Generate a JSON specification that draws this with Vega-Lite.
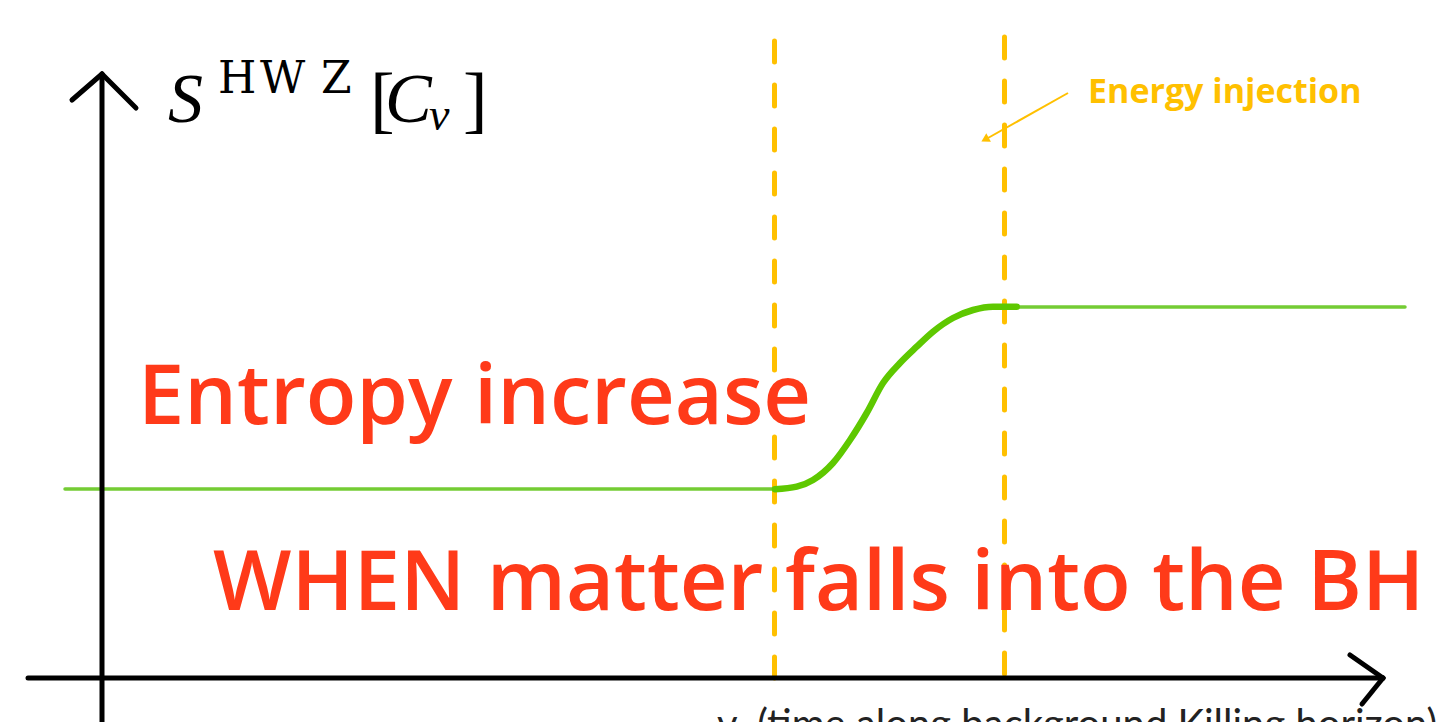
{
  "$schema": "https://vega.github.io/schema/vega-lite/v6.json",
  "width": 1451,
  "height": 722,
  "padding": 0,
  "autosize": {"type": "none"},
  "background": "white",
  "config": {"view": {"stroke": null}},
  "datasets": {
    "axes": [
      {"name": "v-axis", "v": -0.74, "s": 0, "v2": 12.81, "s2": 0},
      {"name": "S-axis", "v": 0, "s": -0.6, "v2": 0, "s2": 6.04},
      {"name": "S-head-left", "v": 0, "s": 6.04, "v2": -0.3, "s2": 5.78},
      {"name": "S-head-right", "v": 0, "s": 6.04, "v2": 0.34, "s2": 5.7},
      {"name": "v-head-up", "v": 12.81, "s": 0, "v2": 12.48, "s2": 0.23},
      {"name": "v-head-down", "v": 12.81, "s": 0, "v2": 12.6, "s2": -0.26}
    ],
    "markers": [
      {"event": "infall start", "v": 6.725, "s": 6.37, "s2": -0.02},
      {"event": "infall end", "v": 9.025, "s": 6.41, "s2": -0.02}
    ],
    "plateaus": [
      {"stage": "before", "v": -0.37, "S": 1.89},
      {"stage": "before", "v": 6.73, "S": 1.89},
      {"stage": "after", "v": 9.08, "S": 3.71},
      {"stage": "after", "v": 13.03, "S": 3.71}
    ],
    "rise": [
      {"v": 6.73, "S": 1.887},
      {"v": 6.947, "S": 1.913},
      {"v": 7.11, "S": 1.98},
      {"v": 7.31, "S": 2.15},
      {"v": 7.48, "S": 2.38},
      {"v": 7.647, "S": 2.65},
      {"v": 7.81, "S": 2.95},
      {"v": 7.98, "S": 3.15},
      {"v": 8.147, "S": 3.313},
      {"v": 8.31, "S": 3.463},
      {"v": 8.51, "S": 3.6},
      {"v": 8.71, "S": 3.68},
      {"v": 8.91, "S": 3.713},
      {"v": 9.147, "S": 3.713}
    ],
    "pointer": [{"v": 9.66, "s": 5.85, "v2": 8.86, "s2": 5.4}],
    "pointerHead": [{"v": 8.83, "s": 5.385}],
    "injection": [{"text": "Energy injection", "v": 9.86, "s": 5.75}],
    "headline": [
      {"text": "Entropy increase", "v": 0.36, "s": 2.54},
      {"text": "WHEN matter falls into the BH", "v": 1.11, "s": 0.68}
    ],
    "vLabel": [{"text": "v\u00a0\u00a0(time along background Killing horizon)", "v": 6.15, "s": -0.6}],
    "symbolMain": [
      {"text": "S", "v": 0.66, "s": 5.56},
      {"text": "C", "v": 2.83, "s": 5.56}
    ],
    "brackets": [
      {"text": "[", "v": 2.68, "s": 5.54},
      {"text": "]", "v": 3.61, "s": 5.54}
    ],
    "superscript": [
      {"text": "H", "v": 1.16, "s": 5.85},
      {"text": "W", "v": 1.58, "s": 5.85},
      {"text": "Z", "v": 2.19, "s": 5.85}
    ],
    "subscript": [{"text": "v", "v": 3.27, "s": 5.48}]
  },
  "encoding": {
    "x": {"field": "v", "type": "quantitative", "scale": {"domain": [-1.02, 13.49], "nice": false, "zero": false}, "axis": null},
    "y": {"field": "s", "type": "quantitative", "scale": {"domain": [-0.44, 6.78], "nice": false, "zero": false}, "axis": null}
  },
  "layer": [
    {
      "data": {"name": "markers"},
      "mark": {"type": "rule", "color": "#ffc000", "strokeWidth": 5, "strokeDash": [21, 23], "strokeCap": "round"},
      "encoding": {"y2": {"field": "s2"}}
    },
    {
      "data": {"name": "plateaus"},
      "mark": {"type": "line", "color": "#74cc34", "strokeWidth": 3.5, "strokeCap": "round"},
      "encoding": {
        "y": {"field": "S", "type": "quantitative"},
        "detail": {"field": "stage"}
      }
    },
    {
      "data": {"name": "rise"},
      "mark": {"type": "line", "color": "#5ec800", "strokeWidth": 6.5, "strokeCap": "round", "interpolate": "monotone"},
      "encoding": {"y": {"field": "S", "type": "quantitative"}}
    },
    {
      "data": {"name": "axes"},
      "mark": {"type": "rule", "color": "#000000", "strokeWidth": 5, "strokeCap": "round"},
      "encoding": {"x2": {"field": "v2"}, "y2": {"field": "s2"}}
    },
    {
      "data": {"name": "pointer"},
      "mark": {"type": "rule", "color": "#ffc000", "strokeWidth": 2},
      "encoding": {"x2": {"field": "v2"}, "y2": {"field": "s2"}}
    },
    {
      "data": {"name": "pointerHead"},
      "mark": {"type": "point", "shape": "triangle-up", "filled": true, "color": "#ffc000", "size": 90, "angle": 241, "opacity": 1}
    },
    {
      "data": {"name": "injection"},
      "mark": {"type": "text", "font": "Open Sans", "fontWeight": "bold", "fontSize": 34, "color": "#ffc000", "align": "left", "baseline": "alphabetic"},
      "encoding": {"text": {"field": "text"}}
    },
    {
      "data": {"name": "headline"},
      "mark": {"type": "text", "font": "Open Sans", "fontWeight": 600, "fontSize": 83, "color": "#ff3a19", "align": "left", "baseline": "alphabetic"},
      "encoding": {"text": {"field": "text"}}
    },
    {
      "data": {"name": "vLabel"},
      "mark": {"type": "text", "font": "Lato", "fontSize": 40, "color": "#222222", "align": "left", "baseline": "alphabetic"},
      "encoding": {"text": {"field": "text"}}
    },
    {
      "data": {"name": "symbolMain"},
      "mark": {"type": "text", "font": "Liberation Serif", "fontStyle": "italic", "fontSize": 70, "color": "#000000", "align": "left", "baseline": "alphabetic"},
      "encoding": {"text": {"field": "text"}}
    },
    {
      "data": {"name": "brackets"},
      "mark": {"type": "text", "font": "Liberation Serif", "fontSize": 74, "color": "#000000", "align": "left", "baseline": "alphabetic"},
      "encoding": {"text": {"field": "text"}}
    },
    {
      "data": {"name": "superscript"},
      "mark": {"type": "text", "font": "DejaVu Serif", "fontSize": 44, "color": "#000000", "align": "left", "baseline": "alphabetic"},
      "encoding": {"text": {"field": "text"}}
    },
    {
      "data": {"name": "subscript"},
      "mark": {"type": "text", "font": "Liberation Serif", "fontStyle": "italic", "fontSize": 46, "color": "#000000", "align": "left", "baseline": "alphabetic"},
      "encoding": {"text": {"field": "text"}}
    }
  ]
}
